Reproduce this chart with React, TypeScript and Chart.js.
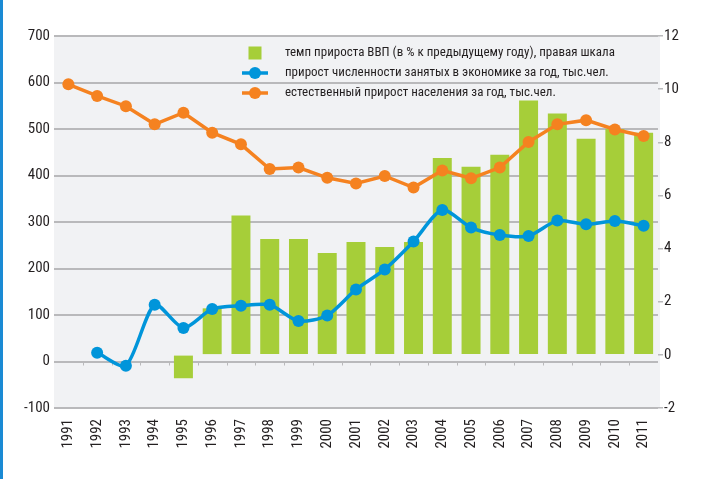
import React, { useEffect, useRef } from "react";
import { Chart, registerables } from "chart.js";

Chart.register(...registerables);

const years = ["1991","1992","1993","1994","1995","1996","1997","1998","1999","2000","2001","2002","2003","2004","2005","2006","2007","2008","2009","2010","2011"];
const gdpGrowth = [null, null, null, null, -0.88, 1.75, 5.24, 4.36, 4.36, 3.83, 4.25, 4.06, 4.25, 7.41, 7.08, 7.53, 9.57, 9.08, 8.13, 8.5, 8.36];
const employmentGrowth = [null, 19, -9, 122, 72, 113, 120, 122, 87, 99, 155, 198, 258, 326, 288, 272, 270, 303, 295, 302, 292];
const naturalGrowth = [596, 571, 549, 510, 535, 492, 467, 414, 417, 395, 383, 399, 374, 411, 394, 417, 472, 510, 519, 499, 485];
const seriesLabels = [
  "темп прироста ВВП (в % к предыдущему году), правая шкала",
  "прирост численности занятых в экономике за год, тыс.чел.",
  "естественный прирост населения за год, тыс.чел.",
];

const GREEN = "#a6ce39";
const BLUE = "#0095da";
const ORANGE = "#f58220";
const GRID = "#b9b9bb";
const TEXT = "#231f20";
const FONT = "'Roboto Condensed', 'DejaVu Sans Condensed', sans-serif";

const bgPlugin = {
  id: "bgPlugin",
  beforeDraw(chart: any) {
    const { ctx, chartArea } = chart;
    ctx.save();
    ctx.fillStyle = "#f1f2f4";
    ctx.fillRect(chartArea.left, chartArea.top, chartArea.right - chartArea.left + 2, chartArea.bottom - chartArea.top);
    ctx.restore();
  },
  beforeDatasetsDraw(chart: any) {
    const { ctx, chartArea, scales } = chart;
    const y0 = scales.y.getPixelForValue(0);
    const n = years.length;
    const w = (chartArea.right - chartArea.left) / n;
    ctx.save();
    ctx.strokeStyle = GRID;
    ctx.lineWidth = 1;
    for (let i = 1; i < n; i++) {
      const x = Math.round(chartArea.left + i * w) + 0.5;
      ctx.beginPath();
      ctx.moveTo(x, y0);
      ctx.lineTo(x, y0 + 4);
      ctx.stroke();
    }
    ctx.restore();
  },
};

const legendPlugin = {
  id: "insideLegend",
  afterDraw(chart: any) {
    const { ctx, chartArea } = chart;
    const ds = chart.data.datasets;
    const order = [0, 1, 2];
    const cx = chartArea.left + 201;
    const tx = chartArea.left + 231;
    const y0 = chartArea.top + 17;
    const dy = 20;
    ctx.save();
    ctx.font = "13px " + FONT;
    ctx.textBaseline = "middle";
    ctx.textAlign = "left";
    order.forEach((idx, i) => {
      const d = ds[idx];
      const y = y0 + i * dy;
      if (d.type === "bar") {
        ctx.fillStyle = d.backgroundColor;
        ctx.fillRect(cx - 6.5, y - 6.5, 13, 13);
      } else {
        ctx.strokeStyle = d.borderColor;
        ctx.lineWidth = 3.5;
        ctx.beginPath();
        ctx.moveTo(cx - 13, y);
        ctx.lineTo(cx + 13, y);
        ctx.stroke();
        ctx.fillStyle = d.borderColor;
        ctx.beginPath();
        ctx.arc(cx, y, 6, 0, Math.PI * 2);
        ctx.fill();
      }
      ctx.fillStyle = TEXT;
      ctx.fillText(d.label, tx, y);
    });
    ctx.restore();
  },
};

export default function App() {
  const ref = useRef<HTMLCanvasElement>(null);
  useEffect(() => {
    if (!ref.current) return;
    const chart = new Chart(ref.current, {
      type: "bar",
      data: {
        labels: years,
        datasets: [
          {
            type: "bar",
            label: seriesLabels[0],
            data: gdpGrowth as any,
            backgroundColor: GREEN,
            yAxisID: "y1",
            barPercentage: 0.66,
            categoryPercentage: 1,
            order: 3,
          } as any,
          {
            type: "line",
            label: seriesLabels[1],
            data: employmentGrowth as any,
            borderColor: BLUE,
            backgroundColor: BLUE,
            borderWidth: 3.5,
            pointRadius: 6,
            pointBackgroundColor: BLUE,
            pointBorderWidth: 0,
            tension: 0.25,
            yAxisID: "y",
            order: 1,
          },
          {
            type: "line",
            label: seriesLabels[2],
            data: naturalGrowth,
            borderColor: ORANGE,
            backgroundColor: ORANGE,
            borderWidth: 3.5,
            pointRadius: 6,
            pointBackgroundColor: ORANGE,
            pointBorderWidth: 0,
            tension: 0,
            yAxisID: "y",
            order: 2,
          },
        ],
      },
      options: {
        responsive: false,
        animation: false,
        layout: { padding: { top: 36, right: 0, left: 0, bottom: 0 } },
        plugins: { legend: { display: false }, tooltip: { enabled: false } },
        scales: {
          x: {
            grid: { display: false },
            border: { display: false },
            ticks: {
              minRotation: 90,
              maxRotation: 90,
              autoSkip: false,
              padding: 3,
              color: TEXT,
              font: { family: FONT, size: 15 },
            },
            afterFit(scale: any) { scale.height = 71; },
          },
          y: {
            position: "left",
            min: -100,
            max: 700,
            ticks: { stepSize: 100, color: TEXT, padding: 4, font: { family: FONT, size: 15 } },
            grid: { color: GRID, lineWidth: 2, drawTicks: false },
            border: { display: false },
            afterFit(scale: any) { scale.width = 54; },
          },
          y1: {
            position: "right",
            min: -2,
            max: 12,
            ticks: { stepSize: 2, color: TEXT, padding: 1, font: { family: FONT, size: 15 } },
            grid: { drawOnChartArea: false, drawTicks: true, tickLength: 5, color: GRID, lineWidth: 1.5 },
            border: { display: false },
            afterFit(scale: any) { scale.width = 52; },
          },
        },
      },
      plugins: [bgPlugin, legendPlugin],
    });
    return () => chart.destroy();
  }, []);
  return (
    <div style={{ position: "absolute", left: 0, top: 0, width: 710, height: 479, background: "#fff" }}>
      <div style={{ position: "absolute", left: 0, top: 0, width: 3, height: 479, background: "#1a8ad4" }} />
      <canvas ref={ref} width={710} height={479} style={{ position: "absolute", left: 0, top: 0 }} />
    </div>
  );
}
